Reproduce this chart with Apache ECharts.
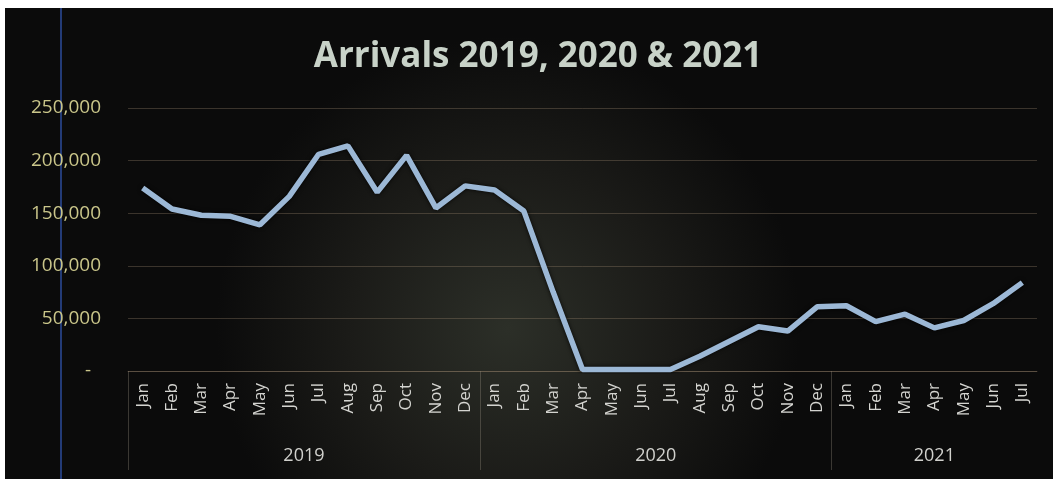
<!DOCTYPE html>
<html>
<head>
<meta charset="utf-8">
<script src="https://cdn.jsdelivr.net/npm/echarts@6/dist/echarts.min.js"></script>
<style>
  html, body { margin: 0; padding: 0; background: #fff; }
  #wrap { position: relative; width: 1053px; height: 479px; overflow: hidden; background: #fff; }
  #main { position: absolute; left: 5px; top: 8px; width: 1048px; height: 471px; }
</style>
</head>
<body>
<div id="wrap"><div id="main"></div></div>
<script>
// months shown on the axis, grouped per year
var monthNames = ['Jan','Feb','Mar','Apr','May','Jun','Jul','Aug','Sep','Oct','Nov','Dec'];
var yearLabels = ['2019','2020','2021'];
var monthsPerYear = [12, 12, 7];

// arrivals per month, Jan 2019 .. Jul 2021
var arrivals = [
    174000, 154000, 148000, 147000, 139000, 166000, 206000, 214000, 170000, 205000, 155000, 176000,
    172000, 152000, 75000, 1500, 1500, 1500, 1500, 14000, 28000, 42000, 38000, 61000,
    62000, 47000, 54000, 41000, 48000, 64000, 84000
];

var yTicks = [0, 50000, 100000, 150000, 200000, 250000];

// month categories
var monthCats = [];
monthsPerYear.forEach(function(n){
    for(var i = 0; i < n; i++) monthCats.push(monthNames[i]);
});

// year axis: half-month slots, label in the middle of each year, ticks at year starts
var yearSlots = [], yearStarts = [], pos = 0;
for(var i = 0; i <= monthCats.length * 2; i++) yearSlots.push('');
monthsPerYear.forEach(function(n, k){
    yearStarts.push(pos * 2);
    yearSlots[pos * 2 + n] = yearLabels[k];
    pos += n;
});

var gridColor = 'rgba(150,128,105,0.35)';

var chart = echarts.init(document.getElementById('main'));
chart.setOption({
    backgroundColor: {
        type: 'radial', x: 0.48, y: 0.68, r: 0.62,
        colorStops: [
            {offset: 0, color: '#2c2f28'},
            {offset: 0.55, color: '#1b1b18'},
            {offset: 1, color: '#0b0b0b'}
        ]
    },
    textStyle: { fontFamily: 'Open Sans' },
    title: {
        text: 'Arrivals 2019, 2020 & 2021',
        left: 528, top: 27, textAlign: 'center',
        textStyle: { color: '#c8d2c8', fontSize: 35, fontWeight: 'bold', fontFamily: 'Open Sans' }
    },
    graphic: [{
        type: 'line', silent: true,
        shape: { x1: 56, y1: 0, x2: 56, y2: 471 },
        style: { stroke: '#2d4d9c', lineWidth: 1.5 }
    }],
    grid: { left: 123, right: 16, top: 100, bottom: 108 },
    xAxis: [{
        type: 'category',
        data: monthCats,
        boundaryGap: true,
        axisLine: { show: true, lineStyle: { color: gridColor } },
        axisTick: { show: false },
        axisLabel: { rotate: 90, interval: 0, margin: 12, color: '#d4d4d0', fontSize: 17 }
    }, {
        type: 'category',
        data: yearSlots,
        boundaryGap: false,
        position: 'bottom',
        axisLine: { show: false },
        axisTick: {
            show: true, length: 99,
            interval: function(idx){ return yearStarts.indexOf(idx) >= 0; },
            lineStyle: { color: 'rgba(150,140,125,0.35)' }
        },
        axisLabel: {
            interval: function(idx, val){ return val !== ''; },
            margin: 76, color: '#d0d0cc', fontSize: 18
        }
    }],
    yAxis: {
        type: 'value',
        min: yTicks[0], max: yTicks[yTicks.length - 1], interval: yTicks[1] - yTicks[0],
        axisLine: { show: false },
        axisTick: { show: false },
        splitLine: { lineStyle: { color: gridColor, width: 1 } },
        axisLabel: {
            margin: 27, color: '#cac68a', fontSize: 19,
            formatter: function(v){ return v === 0 ? '-  ' : v.toLocaleString('en-US'); }
        }
    },
    series: [{
        type: 'line',
        data: arrivals,
        symbol: 'none',
        lineStyle: { color: '#9cb8d6', width: 5.5, shadowColor: 'rgba(0,0,0,0.85)', shadowBlur: 4 }
    }]
});
</script>
</body>
</html>
